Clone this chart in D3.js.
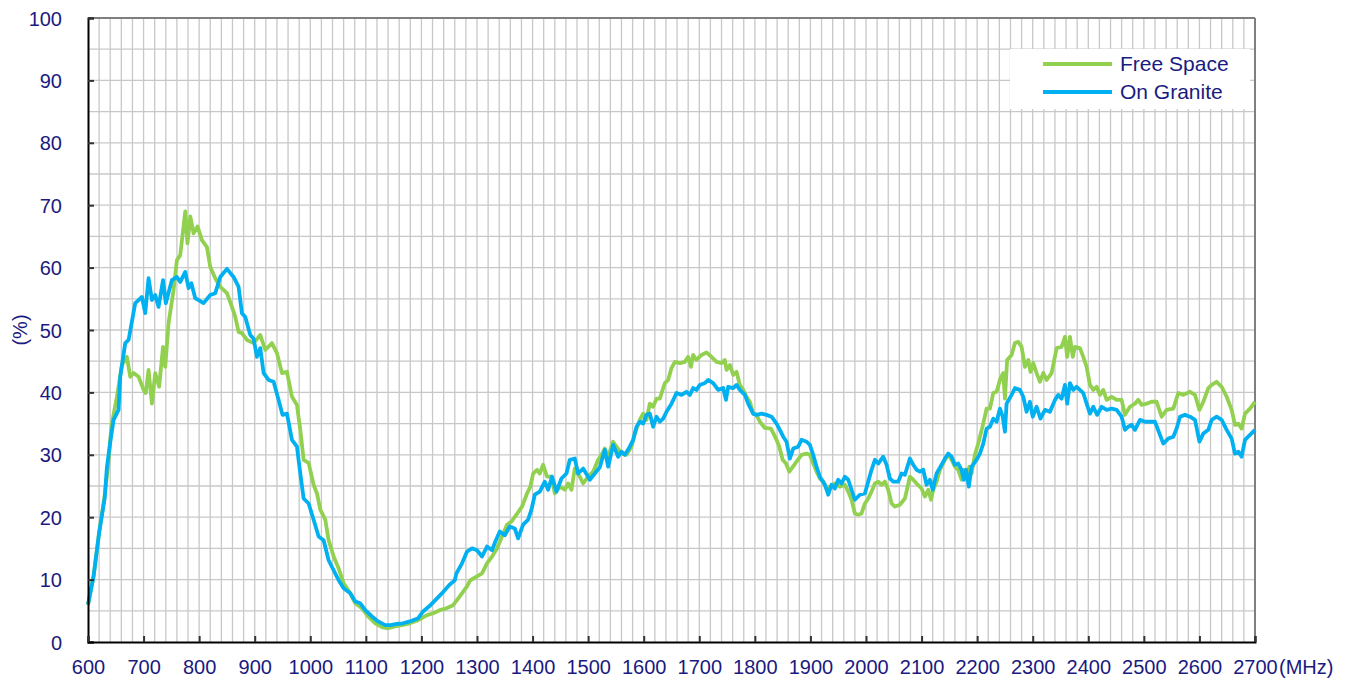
<!DOCTYPE html>
<html>
<head>
<meta charset="utf-8">
<script src="https://cdn.jsdelivr.net/npm/d3@7"></script>
<style>
  body { margin: 0; background: #fff; }
  text { font-family: "Liberation Sans", Arial, sans-serif; fill: #1a1a80; }
</style>
</head>
<body>
<div id="vis"></div>
<script>
// data (MHz / %)
var freeSpaceMHz = [600,610,620,630,636,642,652,661,670,676,682,691,700,704,709,715,721,728,735,739,745,754,760,766,775,779,784,790,797,805,814,820,829,838,850,859,865,871,877,886,898,910,919,931,940,949,958,967,976,982,988,997,1006,1012,1018,1027,1033,1042,1051,1060,1072,1081,1093,1104,1117,1129,1140,1152,1165,1179,1194,1210,1221,1233,1245,1257,1269,1282,1288,1300,1309,1318,1327,1336,1345,1354,1362,1371,1381,1390,1396,1401,1408,1413,1419,1426,1434,1440,1449,1458,1464,1470,1476,1485,1491,1500,1509,1518,1524,1530,1536,1545,1551,1560,1569,1578,1584,1593,1599,1605,1611,1617,1623,1629,1638,1644,1650,1656,1665,1674,1680,1685,1689,1695,1704,1713,1722,1731,1740,1746,1749,1755,1761,1767,1773,1779,1785,1791,1797,1803,1809,1818,1829,1838,1844,1850,1856,1862,1866,1875,1884,1893,1899,1905,1911,1917,1923,1929,1935,1944,1953,1962,1968,1974,1980,1986,1992,1998,2004,2010,2016,2022,2028,2034,2040,2046,2052,2061,2070,2079,2085,2091,2100,2106,2112,2117,2121,2127,2133,2142,2148,2154,2160,2166,2172,2176,2181,2186,2190,2196,2202,2211,2217,2223,2229,2235,2242,2247,2250,2254,2262,2268,2274,2280,2286,2292,2296,2301,2307,2313,2319,2325,2334,2343,2352,2358,2362,2367,2372,2376,2385,2391,2397,2403,2409,2415,2421,2427,2433,2442,2451,2460,2466,2475,2484,2490,2496,2505,2514,2523,2532,2541,2553,2562,2571,2583,2592,2600,2607,2616,2622,2631,2640,2649,2658,2664,2670,2676,2682,2691,2700];
var freeSpacePct = [6,10.5,17.5,23.5,28,34.5,39.3,44.4,45.7,42.5,43.1,42.5,40.4,39.9,43.6,38.2,43.1,40.9,47.3,44.1,51.1,56.4,61.2,62,69,63.9,68.2,65.5,66.6,64.4,63.3,60.1,58.3,56.9,55.9,53.7,52.1,49.7,49.5,48.4,47.9,49.2,46.8,47.9,46.3,43.1,43.3,39.3,38,34,29.2,28.7,25.2,23.8,21.2,19.6,16.3,13.7,11.8,9.4,7.8,6.2,5.4,4.1,3,2.4,2.2,2.5,2.7,3,3.5,4.3,4.6,5.1,5.4,5.9,7.3,8.9,9.9,10.5,11,12.6,13.7,15,16.9,18.8,19.3,20.4,21.7,23.8,24.9,27,27.6,27,28.4,26.5,26.5,23.8,24.9,24.4,25.4,24.4,27.8,26.5,25.4,26.5,27.3,29.2,30,31,29.7,32.1,31.3,30.2,30,31.3,33.4,35.6,36.6,35.6,38.2,37.7,39,39,41.5,42,43.9,44.9,44.7,44.9,45.7,44.1,46,45.2,46,46.4,45.7,44.9,44.7,45.2,43.6,44.4,42.8,43.3,41.2,40.4,39.3,38.5,36.6,36.4,35.3,34.3,34.2,32.6,31.3,29.2,28.6,27.3,27.8,28.9,30,30.2,30,28.6,27.3,26.2,25.7,24.6,24.9,25.4,24.9,25.2,24.1,22.8,20.6,20.4,20.6,22.2,23,24.1,25.4,25.7,25.2,25.7,24.4,22.2,21.7,22,23,26.5,26,25.4,24.6,23.3,24.4,22.8,24.4,25.7,27.6,29.2,30,29.2,28.1,27.6,26,27.6,26.4,28.1,27,30,31.8,35,37.4,37.4,39.9,40.1,42.3,43.1,39,45.2,46,47.9,48.1,47.3,44.1,45.2,43.3,44.7,43.1,41.7,43.1,42,43.1,47.1,47.3,48.9,45.7,48.9,45.7,47.3,47.1,45.7,44.1,41.2,40.4,40.9,39.6,40.4,38.8,39.3,38.8,38.8,36.4,37.7,38.2,38.8,38,38.2,38.5,38.5,36.1,37.2,37.4,39.9,39.6,40.1,39.6,37.2,38.5,40.7,41.2,41.7,40.9,39.3,37.2,34.8,35,34.2,36.6,37.4,38.5];

var onGraniteMHz = [600,610,620,630,634,641,646,655,658,667,673,685,691,697,703,709,715,721,727,735,740,751,760,766,775,781,786,793,808,820,829,838,850,862,871,877,883,892,898,904,910,916,925,934,943,950,958,967,976,982,988,997,1006,1015,1024,1033,1042,1051,1060,1072,1081,1090,1099,1111,1122,1135,1144,1156,1167,1179,1194,1203,1215,1228,1239,1251,1260,1263,1273,1282,1291,1300,1309,1318,1327,1333,1341,1350,1359,1368,1374,1383,1392,1398,1404,1413,1422,1428,1435,1443,1452,1461,1467,1476,1482,1491,1503,1512,1521,1530,1536,1545,1554,1560,1566,1575,1581,1587,1593,1599,1605,1611,1617,1623,1629,1635,1641,1650,1659,1668,1677,1683,1689,1695,1701,1710,1716,1725,1734,1743,1748,1752,1761,1767,1773,1782,1788,1797,1803,1812,1821,1830,1839,1845,1851,1857,1863,1869,1878,1884,1893,1899,1905,1911,1917,1926,1932,1938,1944,1950,1956,1962,1968,1974,1980,1989,1998,2004,2010,2016,2022,2031,2037,2043,2049,2058,2064,2070,2079,2085,2091,2097,2103,2109,2115,2120,2127,2136,2142,2148,2154,2160,2166,2172,2176,2180,2185,2190,2199,2205,2211,2217,2223,2229,2235,2241,2246,2250,2253,2262,2268,2277,2283,2289,2295,2300,2307,2314,2322,2331,2340,2346,2352,2358,2362,2367,2373,2379,2385,2391,2397,2403,2409,2416,2424,2433,2442,2451,2460,2466,2472,2478,2484,2493,2502,2511,2520,2529,2535,2544,2553,2559,2565,2574,2583,2592,2600,2607,2616,2622,2631,2640,2649,2658,2664,2670,2676,2682,2691,2700];
var onGranitePct = [6,10.5,17.5,23,28,32.6,35.6,37.2,42.5,47.9,48.4,54.3,54.8,55.3,52.7,58.3,54.8,55.6,53.7,58,54.3,58,58.5,57.7,59.3,56.7,57.5,55.1,54.3,55.6,55.9,58.5,59.8,58.5,56.9,52.7,52.1,49.2,48.6,45.7,47.1,43.1,42,41.7,38.8,36.4,36.6,32.4,31.3,27,23,22.2,19.6,16.9,16.3,13.1,11.5,9.9,8.6,7.8,6.5,6.2,5.1,4.1,3.3,2.7,2.7,2.9,3,3.3,3.8,4.9,5.8,7,8,9.2,9.9,11,12.6,14.5,15,14.7,13.7,15.3,14.7,16.1,17.7,17.1,18.5,18.2,16.6,18.8,19.6,21.2,23.6,24.1,25.7,24.4,26.5,24.1,26.2,27,29.2,29.4,27,27.8,26,27,28,30.8,28.1,31.6,29.7,30.5,30,31.3,32.4,34.5,35.3,35,36.4,36.6,34.5,36.1,35.3,35.8,36.9,38.2,39.9,39.6,40.1,39.6,40.7,40.4,41.2,41.5,42,41.5,40.4,40.7,38.8,40.9,40.7,41.2,40.4,39.6,38.2,36.6,36.4,36.6,36.4,36.1,35,34,32.9,32.1,29.4,31,31.3,32.4,32.1,31.6,30,28.1,26.5,25.2,23.6,25.2,24.6,26,25.4,26.5,26,24.4,22.8,23.6,23.8,25.7,27.6,29.2,28.6,29.7,28.4,26.2,25.7,25.7,27,26.8,29.4,28.4,27.6,27.3,27.6,25.2,26,24.4,27,28.4,29.4,30.2,29.7,28.4,28.6,27.6,26,27.6,24.9,28.1,29.2,30.2,31.8,34.2,34.5,35.8,35.3,37.4,36.1,33.7,38.2,39.6,40.7,40.4,39.3,36.9,38.5,36.1,37.7,35.8,37.2,36.9,38.8,39.6,39,41.2,38.2,41.5,40.4,40.9,40.4,39.9,38.2,36.6,37.7,36.4,37.7,37.2,37.4,37.2,36.1,34,34.5,34.8,34,35.6,35.3,35.3,35.3,33.2,31.8,32.6,32.9,34.2,36.1,36.4,36.1,35.6,32.1,33.4,34,35.6,36.1,35.6,34,32.6,30.2,30.5,29.7,32.4,33.2,34];

var seriesNames = ["Free Space", "On Granite"];
var seriesColors = ["#92d050", "#00b0f0"];
var xTicks = d3.range(600, 2701, 100);
var yTicks = d3.range(0, 101, 10);

// Layout Settings
var W = 1352, H = 679;
var margin = {top: 18, right: 97, bottom: 37, left: 88},
	width = W - margin.left - margin.right,
	height = H - margin.top - margin.bottom;

var svg = d3.select("#vis")
			.append("svg")
			.attr("width", W)
			.attr("height", H);

var g = svg.append("g")
		   .attr("transform", "translate(" + margin.left + "," + margin.top + ")");

var x = d3.scaleLinear().domain([600, 2700]).range([0, width]);
var y = d3.scaleLinear().domain([0, 100]).range([height, 0]);

// grid
g.append("g")
 .selectAll("line")
 .data(d3.range(620, 2700, 20))
 .enter().append("line")
 .attr("x1", x).attr("x2", x)
 .attr("y1", 0).attr("y2", height)
 .attr("stroke", "#c8c8c8").attr("stroke-width", 1.3);

g.append("g")
 .selectAll("line")
 .data(d3.range(5, 100, 5))
 .enter().append("line")
 .attr("y1", y).attr("y2", y)
 .attr("x1", 0).attr("x2", width)
 .attr("stroke", "#c8c8c8").attr("stroke-width", 1.3);

// top / right frame
g.append("line").attr("x1", 0).attr("x2", width).attr("y1", 0).attr("y2", 0)
 .attr("stroke", "#7f7f7f").attr("stroke-width", 2);
g.append("line").attr("x1", width).attr("x2", width).attr("y1", 0).attr("y2", height)
 .attr("stroke", "#7f7f7f").attr("stroke-width", 2);

// legend box (drawn over grid, under curves)
var legend = g.append("g").attr("transform", "translate(" + (1010 - margin.left) + "," + (49 - margin.top) + ")");
legend.append("rect").attr("width", 240).attr("height", 60).attr("fill", "#fff");

// curves
var line = d3.line()
			 .x(function(d) { return x(d[0]); })
			 .y(function(d) { return y(d[1]); });

var series = [
	d3.zip(freeSpaceMHz, freeSpacePct),
	d3.zip(onGraniteMHz, onGranitePct)
];

g.selectAll(".curve")
 .data(series)
 .enter().append("path")
 .attr("class", "curve")
 .attr("d", line)
 .attr("fill", "none")
 .attr("stroke", function(d, i) { return seriesColors[i]; })
 .attr("stroke-width", 3.8)
 .attr("stroke-linejoin", "round");

// axes
var yAxis = d3.axisLeft(y).tickValues(yTicks).tickSize(-6).tickPadding(26).tickFormat(d3.format("d"));
var xAxis = d3.axisBottom(x).tickValues(xTicks).tickSize(-6).tickPadding(18).tickFormat(d3.format("d"));

var ya = g.append("g").call(yAxis);
var xa = g.append("g").attr("transform", "translate(0," + height + ")").call(xAxis);

[ya, xa].forEach(function(a) {
	a.select(".domain").attr("stroke", "#000").attr("stroke-width", 2);
	a.selectAll(".tick line").attr("stroke", "#333").attr("stroke-width", 2);
	a.selectAll(".tick text").style("font-size", "20px").attr("fill", "#1a1a80")
	 .style("font-family", '"Liberation Sans", Arial, sans-serif');
});
ya.selectAll(".tick text").attr("dy", "0.35em");
xa.selectAll(".tick text").attr("dy", "0.71em");

// units
svg.append("text")
   .attr("x", 1279).attr("y", 667)
   .attr("dy", "0.35em")
   .style("font-size", "20px")
   .text("(MHz)");

svg.append("text")
   .attr("transform", "translate(20,330) rotate(-90)")
   .attr("text-anchor", "middle")
   .attr("dy", "0.35em")
   .style("font-size", "20px")
   .text("(%)");

// legend entries
seriesNames.forEach(function(name, i) {
	var ly = 15 + i * 28;
	legend.append("line")
		  .attr("x1", 33).attr("x2", 102)
		  .attr("y1", ly).attr("y2", ly)
		  .attr("stroke", seriesColors[i]).attr("stroke-width", 3.8);
	legend.append("text")
		  .attr("x", 110).attr("y", ly)
		  .attr("dy", "0.35em")
		  .style("font-size", "21px")
		  .text(name);
});
</script>
</body>
</html>
